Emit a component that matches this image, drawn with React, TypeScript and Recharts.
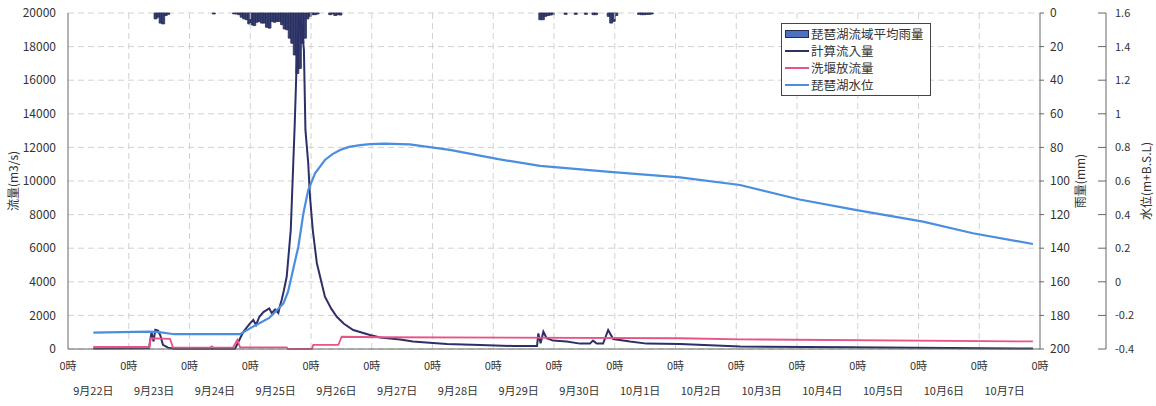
import React from 'react';
import {
  ComposedChart,
  Bar,
  Line,
  XAxis,
  YAxis,
  CartesianGrid,
  ReferenceLine,
  Legend,
} from 'recharts';

const FONT = '"Noto Sans CJK JP", "Noto Sans", sans-serif';

// Day captions under the time axis (one per day, 9/22 – 10/7)
const dayLabels = [
  '9月22日', '9月23日', '9月24日', '9月25日', '9月26日', '9月27日', '9月28日', '9月29日',
  '9月30日', '10月1日', '10月2日', '10月3日', '10月4日', '10月5日', '10月6日', '10月7日',
];

// Basin-average hourly rainfall: [hour since 9/22 0時, mm]
const rainfall: [number, number][] = [
  [34, 3.5], [35, 2.5], [36, 6], [37, 6.5], [38, 1.5], [39, 0.8],
  [57, 0.6],
  [65, 0.5], [66, 0.6], [67, 1], [68, 2.5], [69, 3.5], [70, 4], [71, 6.5], [72, 7],
  [73, 7.5], [74, 5.5], [75, 5], [76, 6], [77, 6], [78, 8.5], [79, 9], [80, 5],
  [81, 5.5], [82, 5], [83, 5], [84, 7], [85, 9.5], [86, 10], [87, 15], [88, 18],
  [89, 25], [90, 36], [91, 33], [92, 18], [93, 15], [94, 3.5], [95, 2], [96, 1],
  [97, 1], [98, 0.6],
  [103, 1], [104, 0.5], [105, 1.5], [106, 1], [107, 1.2],
  [186, 4], [187, 4], [188, 2], [189, 1.5], [190, 1.2], [191, 1],
  [196, 0.8], [200, 0.8], [204, 0.8], [207, 1], [208, 1],
  [213, 2], [214, 6], [215, 5], [216, 1.5],
  [225, 0.8], [226, 1], [227, 1], [228, 0.8], [229, 0.8], [230, 0.6],
];

// Computed inflow (m3/s): [hour, value]
const inflow: [number, number][] = [
  [10, 30], [32, 50], [33, 1000], [33.8, 450], [34.5, 1150], [35.6, 1100], [36.5, 800],
  [37.5, 250], [39.5, 80], [42, 20], [66, 20], [68, 640], [69.3, 1030], [71.9, 1530],
  [73.2, 1730], [74.3, 1430], [75.6, 1920], [77.2, 2200], [79.5, 2420], [80.5, 2130],
  [81.8, 2350], [83.1, 2150], [83.8, 2600], [84.4, 2920], [85.3, 3500], [86.4, 4300],
  [88, 7080], [89, 11070], [89.6, 13500], [90.2, 16400], [91.3, 19700], [92.4, 19200],
  [93.2, 17800], [93.8, 13040], [94.9, 11070], [95.6, 9070], [96.7, 7080], [98.3, 5120],
  [101.5, 3110], [104, 2400], [106.2, 1920], [109, 1500], [112.7, 1130], [119.3, 830],
  [123.3, 680], [131.2, 560], [136.3, 440], [144.2, 360], [149.7, 300], [162.8, 245],
  [175.8, 180], [185.3, 180], [185.8, 930], [186.7, 340], [187.8, 1030], [189.1, 640],
  [191.6, 500], [197, 440], [202.3, 320], [206.2, 320], [207.4, 500], [208.9, 320],
  [211.4, 320], [213.4, 1130], [215.4, 590], [222, 440], [228.6, 320], [241.8, 300],
  [265.5, 150], [308.9, 100], [348.4, 60], [381.2, 30],
];

// Seta weir release (m3/s): [hour, value]
const outflow: [number, number][] = [
  [10, 120], [32.2, 120], [32.6, 640], [40.3, 600], [41.5, 80], [56, 80], [56.8, 160],
  [57.5, 80], [65.2, 90], [66.9, 540], [68, 100], [86.4, 100], [86.9, 0], [96.3, 0],
  [96.9, 240], [106.8, 240], [108.1, 730], [123.3, 700], [241.8, 640], [265.5, 575],
  [381.2, 450],
];

// Lake Biwa water level (m, B.S.L.): [hour, value]
const lakeLevel: [number, number][] = [
  [10, -0.303], [32, -0.297], [36, -0.3], [42, -0.312], [68, -0.312], [71.9, -0.277],
  [75.6, -0.247], [79.5, -0.215], [83.1, -0.16], [85.1, -0.128], [86.9, -0.06],
  [88, 0.011], [89.5, 0.11], [91, 0.209], [93, 0.408], [94.9, 0.546], [97.6, 0.646],
  [101.5, 0.725], [104.5, 0.76], [107.5, 0.785], [111, 0.803], [115.4, 0.814],
  [119.3, 0.82], [125, 0.822], [135, 0.818], [150.9, 0.785], [170, 0.73], [186.5, 0.69],
  [214, 0.654], [241.8, 0.622], [265.5, 0.576], [289, 0.49], [311.6, 0.427],
  [337.8, 0.358], [357.5, 0.289], [381.2, 0.225],
];

const flowTicks = [0, 2000, 4000, 6000, 8000, 10000, 12000, 14000, 16000, 18000, 20000];
const rainTicks = [0, 20, 40, 60, 80, 100, 120, 140, 160, 180, 200];
const levelTicks = [-0.4, -0.2, 0, 0.2, 0.4, 0.6, 0.8, 1, 1.2, 1.4, 1.6];

const HOURS = dayLabels.length * 24;
const midnights = Array.from({ length: dayLabels.length + 1 }, (_, d) => d * 24);
const timeTicks = [...midnights, ...dayLabels.map((_, d) => d * 24 + 12)].sort((a, b) => a - b);

// Hourly rows for the rainfall bars
const rainByHour = new Map(rainfall);
const hourlyRows = Array.from({ length: HOURS }, (_, h) => ({
  h,
  rain: rainByHour.has(h) ? rainByHour.get(h) : null,
}));

const toRows = (pairs: [number, number][]) => pairs.map(([t, v]) => ({ t, v }));
const inflowRows = toRows(inflow);
const outflowRows = toRows(outflow);
const levelRows = toRows(lakeLevel);

// Right-hand axes: rainfall sits next to the plot, water level outside it
const RAIN_AXIS = 'r1-rain';
const LEVEL_AXIS = 'r2-level';

const COLORS = {
  rainFill: '#363f72',
  rainEdge: '#262b55',
  inflow: '#2d2f66',
  outflow: '#ea5285',
  level: '#4a8ee0',
  axis: '#666',
  text: '#333',
  grid: '#d2d2d2',
};

const legendOrder = ['琵琶湖流域平均雨量', '計算流入量', '洗堰放流量', '琵琶湖水位'];

const AxisTitle = (props: any) => {
  const { viewBox, caption, shift } = props;
  if (!viewBox) return null;
  const cx = viewBox.x + shift;
  const cy = viewBox.y + viewBox.height / 2;
  return (
    <text
      x={cx}
      y={cy}
      transform={`rotate(-90 ${cx} ${cy})`}
      textAnchor="middle"
      dominantBaseline="central"
      fontSize={12}
      fill={COLORS.text}
      fontFamily={FONT}
    >
      {caption}
    </text>
  );
};

const TimeTick = (props: any) => {
  const { x, y, payload } = props;
  const v = payload.value as number;
  if (v % 24 === 0) {
    return (
      <text x={x} y={y} dy={21} textAnchor="middle" fontSize={11} fill={COLORS.text} fontFamily={FONT}>
        0時
      </text>
    );
  }
  return (
    <text x={x - 5} y={y} dy={46} textAnchor="middle" fontSize={11} fill={COLORS.text} fontFamily={FONT}>
      {dayLabels[Math.floor(v / 24)]}
    </text>
  );
};

const LevelTick = (props: any) => {
  const { x, y, payload } = props;
  return (
    <g>
      <line x1={x - 17} x2={x - 9} y1={y} y2={y} stroke={COLORS.axis} />
      <text x={x} y={y} dy={4} textAnchor="start" fontSize={11} fill={COLORS.text} fontFamily={FONT}>
        {payload.value}
      </text>
    </g>
  );
};

const LegendBox = (props: any) => {
  const items = [...(props.payload || [])].sort(
    (a: any, b: any) => legendOrder.indexOf(a.value) - legendOrder.indexOf(b.value),
  );
  return (
    <div
      style={{
        border: '1px solid #444',
        background: '#fff',
        padding: '1px 4px 2px 3px',
        boxSizing: 'border-box',
        width: 150,
        fontFamily: FONT,
      }}
    >
      {items.map((it: any) => (
        <div key={it.value} style={{ display: 'flex', alignItems: 'center', height: 17 }}>
          <svg width={24} height={10} style={{ marginRight: 2, flex: 'none' }}>
            {it.type === 'rect' ? (
              <rect x={0.5} y={1.5} width={23} height={7} fill="#4a72c0" stroke={COLORS.rainEdge} />
            ) : (
              <line x1={0} x2={24} y1={5} y2={5} stroke={it.color} strokeWidth={2} />
            )}
          </svg>
          <span style={{ fontSize: 12.5, color: COLORS.text, whiteSpace: 'nowrap' }}>{it.value}</span>
        </div>
      ))}
    </div>
  );
};

export default function App() {
  return (
    <div style={{ position: 'absolute', left: 0, top: 0, width: 1156, height: 406, background: '#fff' }}>
      <ComposedChart
        width={1156}
        height={406}
        data={hourlyRows}
        margin={{ top: 13, right: 0, bottom: 7, left: 0 }}
        barCategoryGap={0}
        barGap={0}
      >
        <XAxis
          xAxisId="t"
          dataKey="t"
          type="number"
          domain={[0, HOURS]}
          allowDataOverflow
          ticks={timeTicks}
          interval={0}
          tick={<TimeTick />}
          tickLine={false}
          tickSize={0}
          tickMargin={0}
          height={50}
          axisLine={{ stroke: COLORS.axis }}
        />
        <XAxis xAxisId="bar" dataKey="h" type="category" orientation="top" height={0} hide />
        <YAxis
          yAxisId="flow"
          orientation="left"
          domain={[0, 20000]}
          ticks={flowTicks}
          interval={0}
          width={68}
          tickLine={false}
          tickMargin={6}
          axisLine={{ stroke: COLORS.axis }}
          tick={{ fontSize: 12, fill: COLORS.text, fontFamily: FONT }}
          label={<AxisTitle caption="流量(m3/s)" shift={12} />}
        />
        <YAxis
          yAxisId={RAIN_AXIS}
          orientation="right"
          reversed
          domain={[0, 200]}
          ticks={rainTicks}
          interval={0}
          width={66}
          tickSize={4}
          tickMargin={6}
          tickLine={{ stroke: COLORS.axis }}
          axisLine={{ stroke: COLORS.axis }}
          tick={{ fontSize: 12, fill: COLORS.text, fontFamily: FONT }}
          label={<AxisTitle caption="雨量(mm)" shift={39} />}
        />
        <YAxis
          yAxisId={LEVEL_AXIS}
          orientation="right"
          domain={[-0.4, 1.6]}
          ticks={levelTicks}
          interval={0}
          width={50}
          tickSize={0}
          tickMargin={9}
          tickLine={false}
          axisLine={{ stroke: COLORS.axis }}
          tick={<LevelTick />}
          label={<AxisTitle caption="水位(m+B.S.L)" shift={39} />}
        />
        <CartesianGrid
          xAxisId="t"
          yAxisId="flow"
          vertical={false}
          stroke={COLORS.grid}
          strokeDasharray="6 4"
        />
        {midnights.slice(1, -1).map((d) => (
          <ReferenceLine
            key={d}
            xAxisId="t"
            yAxisId="flow"
            x={d}
            stroke={COLORS.grid}
            strokeDasharray="6 4"
          />
        ))}
        <Legend
          layout="vertical"
          align="center"
          verticalAlign="middle"
          content={<LegendBox />}
          wrapperStyle={{ left: 781, top: 23, width: 150, height: 'auto' }}
        />
        <Bar
          xAxisId="bar"
          yAxisId={RAIN_AXIS}
          dataKey="rain"
          name="琵琶湖流域平均雨量"
          legendType="rect"
          fill={COLORS.rainFill}
          stroke={COLORS.rainEdge}
          strokeWidth={0.8}
          isAnimationActive={false}
        />
        <Line
          xAxisId="t"
          yAxisId="flow"
          data={inflowRows}
          dataKey="v"
          name="計算流入量"
          type="linear"
          stroke={COLORS.inflow}
          strokeWidth={2}
          dot={false}
          activeDot={false}
          isAnimationActive={false}
        />
        <Line
          xAxisId="t"
          yAxisId="flow"
          data={outflowRows}
          dataKey="v"
          name="洗堰放流量"
          type="linear"
          stroke={COLORS.outflow}
          strokeWidth={1.8}
          dot={false}
          activeDot={false}
          isAnimationActive={false}
        />
        <Line
          xAxisId="t"
          yAxisId={LEVEL_AXIS}
          data={levelRows}
          dataKey="v"
          name="琵琶湖水位"
          type="linear"
          stroke={COLORS.level}
          strokeWidth={2.2}
          dot={false}
          activeDot={false}
          isAnimationActive={false}
        />
      </ComposedChart>
    </div>
  );
}
